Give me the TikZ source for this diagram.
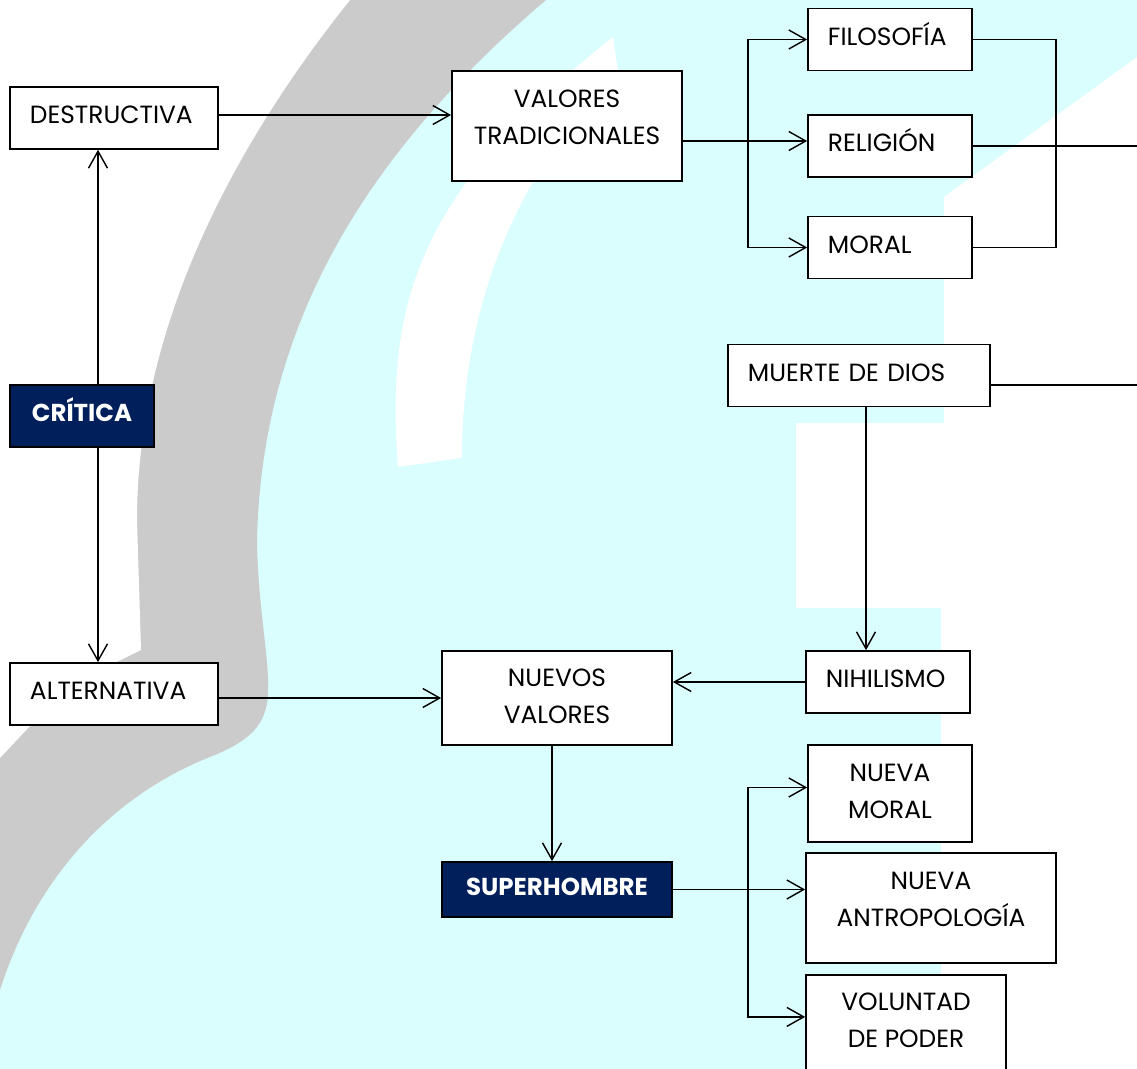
\documentclass[tikz,border=0pt]{standalone}
\usepackage{fontspec}
\setmainfont{Poppins}
\usepackage{tikz}
\usetikzlibrary{arrows.meta,positioning}
\definecolor{bgcyan}{HTML}{DAFDFD}
\definecolor{bggray}{HTML}{CBCBCB}
\definecolor{navy}{HTML}{011F5B}
\tikzset{
  box/.style={draw=black,line width=1.2pt,fill=white,inner xsep=0.5cm,inner ysep=0pt,
    minimum height=1.55cm,font=\fontsize{17.7}{26.2}\selectfont,
    text height=13pt,text depth=5pt},
  tag/.style={box,text width=#1,align=left},
  pair/.style={box,align=center,minimum width=#1,text height=39.2pt,text depth=3.4pt},
  lifted/.style={text depth=13.4pt},
  hub/.style={box,fill=navy,text=white,minimum width=#1,align=center,
    font=\fontsize{17.4}{20}\selectfont\bfseries},
}

\begin{document}
\begin{tikzpicture}[x=0.025cm,y=-0.025cm,line width=1pt,
    >={Straight Barb[length=12pt,width=13.5pt]}]
  \clip (0,0) rectangle (1137,1069);
  \fill[bgcyan] (0,0) rectangle (1137,1069);
  \fill[bggray] (0,0) -- (546,0) .. controls (370,150) and (262,320) .. (257,540)
    .. controls (258,610) and (270,660) .. (268,695)
    .. controls (266,725) and (250,740) .. (215,755)
    .. controls (110,795) and (35,880) .. (0,990) -- cycle;
  \fill[white] (0,0) -- (350,0) .. controls (230,150) and (137,330) .. (137,520)
    -- (141,650) -- (60,690) -- (30,726) -- (0,758) -- cycle;
  \fill[white] (398,467) .. controls (385,300) and (420,190) .. (613,37) -- (618,71)
    .. controls (520,170) and (462,300) .. (462,458) -- cycle;
  \fill[white] (1137,57) -- (944,197) -- (944,423) -- (796,423) -- (796,608) -- (941,608)
    -- (941,1069) -- (1137,1069) -- cycle;

  \node[tag=4.2cm] (destructiva) at (114,118) {DESTRUCTIVA};
  \node[hub=3.6cm] (critica) at (82,416) {CRÍTICA};
  \node[tag=4.2cm] (alternativa) at (114,694) {ALTERNATIVA};
  \node[pair=5.75cm,lifted,minimum height=2.75cm] (valores) at (567,126) {VALORES\\TRADICIONALES};
  \node[tag=3.1cm] (filosofia) at (890,39.5) {FILOSOFÍA};
  \node[tag=3.1cm] (religion) at (890,146) {RELIGIÓN};
  \node[tag=3.1cm] (moral) at (890,247.5) {MORAL};
  \node[tag=5.55cm] (muerte) at (859,375.5) {MUERTE DE DIOS};
  \node[tag=3.1cm] (nihilismo) at (888,682) {NIHILISMO};
  \node[pair=5.75cm,minimum height=2.35cm] (nuevos) at (557,698) {NUEVOS\\VALORES};
  \node[hub=5.75cm,minimum height=1.375cm] (superhombre) at (557,889.5) {SUPERHOMBRE};
  \node[pair=4.1cm,minimum height=2.425cm] (nuevamoral) at (890,793.5) {NUEVA\\MORAL};
  \node[pair=6.25cm,lifted,minimum height=2.75cm] (antropologia) at (931,908) {NUEVA\\ANTROPOLOGÍA};
  \node[pair=5cm,minimum height=2.375cm] (voluntad) at (906,1022.5) {VOLUNTAD\\DE PODER};

  \coordinate (spine) at (98,0);
  \coordinate (fork) at (748,141);
  \coordinate (fork2) at (748,890);
  \coordinate (merge) at (1056,0);
  \coordinate (drop) at (866,0);
  \coordinate (rim) at (1137,0);
  \coordinate (tail) at (1137,385);

  \draw[->] (critica.north -| spine) -- (destructiva.south -| spine);
  \draw[->] (critica.south -| spine) -- (alternativa.north -| spine);
  \draw[->] ([yshift=0.075cm]destructiva.east) -- ([yshift=0.075cm]destructiva.east -| valores.west);
  \draw[->] (valores.east |- fork) -- (religion.west |- fork);
  \draw[->] (fork) |- (filosofia.west);
  \draw[->] (fork) |- (moral.west);
  \draw (filosofia.east) -| (merge |- moral.east) -- (moral.east);
  \draw (religion.east) -- (religion.east -| rim);
  \draw[line width=2pt] (muerte.east |- tail) -- (tail);
  \draw[->] (muerte.south -| drop) -- (nihilismo.north -| drop);
  \draw[->] (nihilismo.west) -- (nihilismo.west -| nuevos.east);
  \draw[->] (alternativa.east |- nuevos) -- (nuevos.west);
  \draw[->] ([xshift=-0.125cm]nuevos.south) -- ([xshift=-0.125cm]superhombre.north);
  \draw[->] (superhombre.east) -- (superhombre.east -| antropologia.west);
  \draw[->] (fork2) |- ([yshift=0.15cm]nuevamoral.west);
  \draw[->] (fork2) |- ([yshift=0.14cm]voluntad.west);
\end{tikzpicture}
\end{document}
